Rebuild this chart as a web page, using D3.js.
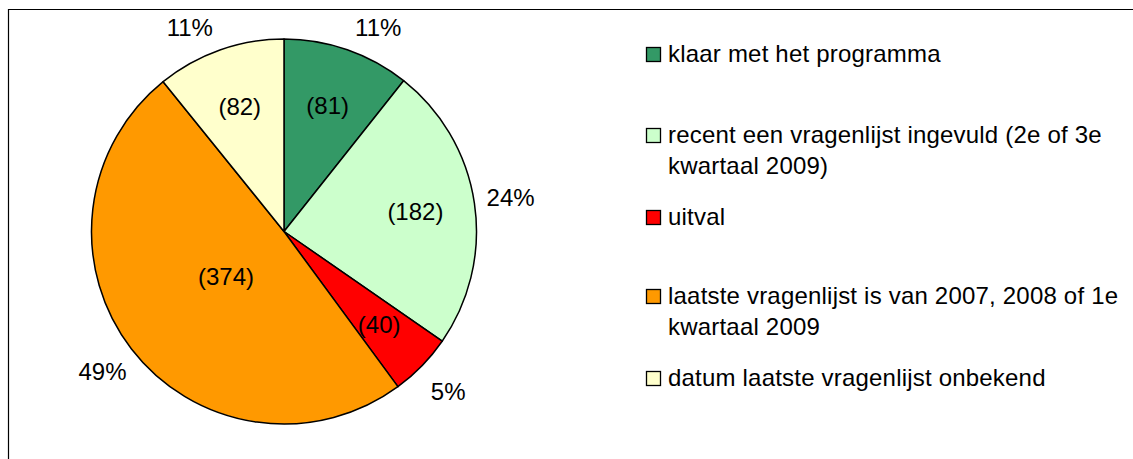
<!DOCTYPE html>
<html>
<head>
<meta charset="utf-8">
<script src="https://cdn.jsdelivr.net/npm/d3@7"></script>
<style>
  body { margin: 0; background: #fff; }
  svg { display: block; font-family: "Liberation Sans", Arial, sans-serif; }
</style>
</head>
<body>
<svg id="chart" width="1133" height="459"></svg>
<script>
var categories = [
  "klaar met het programma",
  "recent een vragenlijst ingevuld (2e of 3e|kwartaal 2009)",
  "uitval",
  "laatste vragenlijst is van 2007, 2008 of 1e|kwartaal 2009",
  "datum laatste vragenlijst onbekend"
];
var counts = [81, 182, 40, 374, 82];
var percentLabels = ["11%", "24%", "5%", "49%", "11%"];
var colors = ["#339966", "#CCFFCC", "#FF0000", "#FF9900", "#FFFFCC"];

var svg = d3.select("#chart");
var width = 1133, height = 459;

// frame (only top and left edges are in view)
svg.append("line").attr("x1", 8).attr("y1", 9.5).attr("x2", width).attr("y2", 9.5)
    .attr("stroke", "#000").attr("stroke-width", 1.2);
svg.append("line").attr("x1", 8.5).attr("y1", 9).attr("x2", 8.5).attr("y2", height)
    .attr("stroke", "#000").attr("stroke-width", 1.2);

var data = categories.map(function (c, i) {
    return { name: c, value: counts[i], pct: percentLabels[i], color: colors[i] };
});
var total = d3.sum(counts);

var radius = 192.5;
var cx = 284, cy = 231.5;
var fontSize = "24px";

var pie = d3.pie().value(d => d.value).sort(null);
var arc = d3.arc().innerRadius(0).outerRadius(radius);
var innerArc = d3.arc().innerRadius(radius * 0.69).outerRadius(radius * 0.69);
var bigArc = d3.arc().innerRadius(radius * 0.38).outerRadius(radius * 0.38);

// outside label position, kept below the top frame edge
function outerPos(d) {
    var a = (d.startAngle + d.endAngle) / 2;
    var r = radius * 1.19;
    var x = Math.sin(a) * r, y = -Math.cos(a) * r;
    var minY = 28 - cy;
    if (y < minY) {
        var r2 = radius * 1.165;
        y = minY;
        x = Math.sign(x) * Math.sqrt(Math.max(0, r2 * r2 - y * y));
    }
    return [x, y];
}

var g = svg.append("g").attr("transform", "translate(" + cx + "," + cy + ")");
var arcs = g.selectAll(".arc").data(pie(data)).enter().append("g").attr("class", "arc");

arcs.append("path")
    .attr("d", arc)
    .attr("fill", d => d.data.color)
    .attr("stroke", "#000")
    .attr("stroke-width", 1.5)
    .attr("stroke-linejoin", "round");

arcs.append("text")
    .attr("transform", function (d) {
        var a = d.data.value / total > 0.4 ? bigArc : innerArc;
        return "translate(" + a.centroid(d) + ")";
    })
    .attr("text-anchor", "middle")
    .attr("dy", "0.35em")
    .style("font-size", fontSize)
    .attr("fill", "#000")
    .text(d => "(" + d.data.value + ")");

arcs.append("text")
    .attr("transform", d => "translate(" + outerPos(d) + ")")
    .attr("text-anchor", "middle")
    .attr("dy", "0.35em")
    .style("font-size", fontSize)
    .attr("fill", "#000")
    .text(d => d.data.pct);

// legend
var legendBaselines = [62, 143, 225, 304, 386];
var legend = svg.append("g").attr("transform", "translate(646,0)");
data.forEach(function (d, i) {
    var y = legendBaselines[i];
    legend.append("rect")
        .attr("x", 0.5).attr("y", y - 14.5)
        .attr("width", 14).attr("height", 14)
        .attr("fill", d.color)
        .attr("stroke", "#000").attr("stroke-width", 1.3);
    var t = legend.append("text")
        .attr("x", 22).attr("y", y)
        .style("font-size", fontSize)
        .style("letter-spacing", "0.2px")
        .attr("fill", "#000");
    d.name.split("|").forEach(function (ln, j) {
        t.append("tspan").attr("x", 22).attr("dy", j === 0 ? 0 : 31).text(ln);
    });
});
</script>
</body>
</html>
